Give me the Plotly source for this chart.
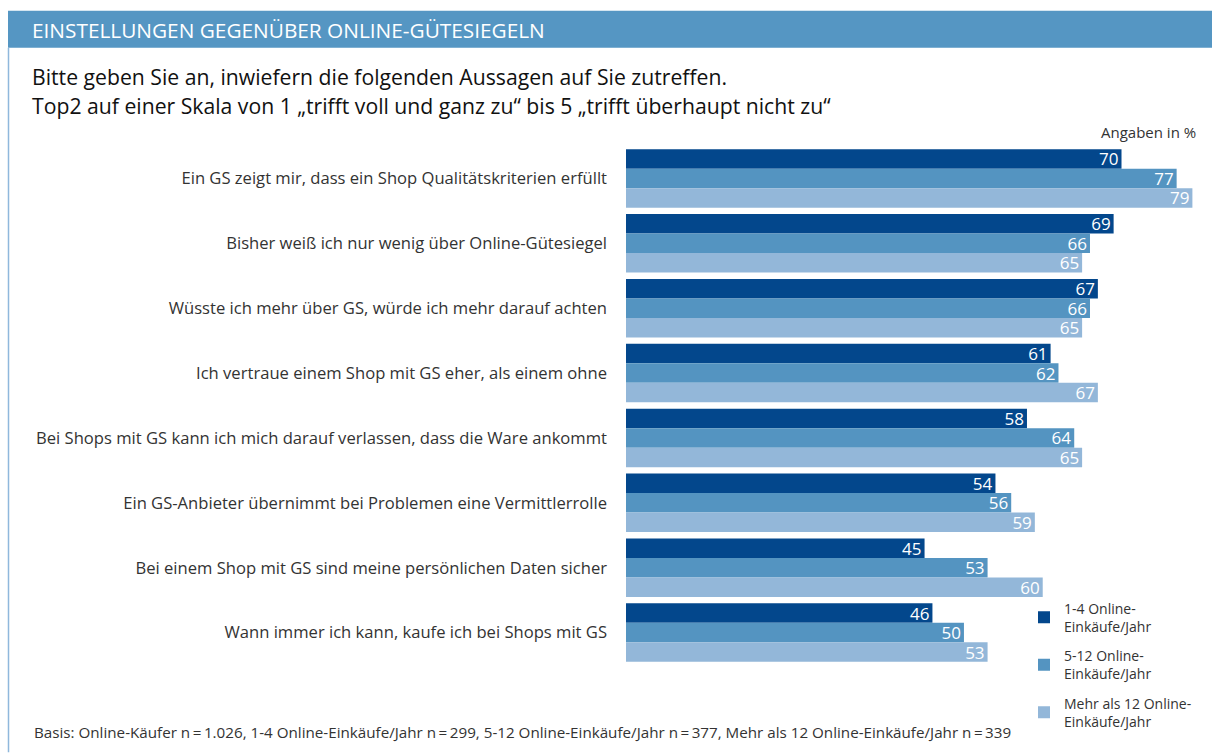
import plotly.graph_objects as go

categories = [
    "Ein GS zeigt mir, dass ein Shop Qualitätskriterien erfüllt",
    "Bisher weiß ich nur wenig über Online-Gütesiegel",
    "Wüsste ich mehr über GS, würde ich mehr darauf achten",
    "Ich vertraue einem Shop mit GS eher, als einem ohne",
    "Bei Shops mit GS kann ich mich darauf verlassen, dass die Ware ankommt",
    "Ein GS-Anbieter übernimmt bei Problemen eine Vermittlerrolle",
    "Bei einem Shop mit GS sind meine persönlichen Daten sicher",
    "Wann immer ich kann, kaufe ich bei Shops mit GS",
]
series_names = [
    "1-4 Online-<br>Einkäufe/Jahr",
    "5-12 Online-<br>Einkäufe/Jahr",
    "Mehr als 12 Online-<br>Einkäufe/Jahr",
]
vals_1_4 = [70, 69, 67, 61, 58, 54, 45, 46]
vals_5_12 = [77, 66, 66, 62, 64, 56, 53, 50]
vals_12plus = [79, 65, 65, 67, 65, 59, 60, 53]
colors = ["#03478c", "#5494c1", "#93b7d9"]

FONT = "Open Sans"
W, H = 1212, 753
L, R, T, B = 626, 1205, 145.5, 665.5

def px(x):
    return (x - L) / (R - L)

def py(y):
    return (B - y) / (B - T)

fig = go.Figure()
for i, (name, vals) in enumerate(zip(series_names, [vals_1_4, vals_5_12, vals_12plus])):
    fig.add_trace(go.Bar(
        y=categories, x=vals, orientation="h", name=name,
        marker=dict(color=colors[i], line=dict(width=0)),
        text=[str(v) for v in vals], textposition="inside", textangle=0,
        insidetextanchor="end", constraintext="none",
        textfont=dict(color="white", size=17, family=FONT),
        legendgroup=str(i),
    ))

fig.update_layout(
    width=W, height=H,
    margin=dict(l=L, r=W - R, t=T, b=H - B, pad=0),
    paper_bgcolor="white", plot_bgcolor="white",
    barmode="group", bargap=0.1, bargroupgap=0,
    font=dict(family=FONT, color="#333333"),
    xaxis=dict(range=[7.1, 80.6], visible=False, fixedrange=True),
    yaxis=dict(autorange="reversed", showgrid=False, showline=False, zeroline=False,
               ticks="", ticklabelstandoff=18,
               tickfont=dict(size=16.6, color="#333333", family=FONT)),
    legend=dict(
        x=px(1024), y=py(593), xanchor="left", yanchor="top",
        font=dict(size=14, color="#333333", family=FONT),
        tracegroupgap=8, traceorder="grouped", itemclick=False,
        bgcolor="rgba(0,0,0,0)",
    ),
    showlegend=True,
)

shapes = [
    dict(type="rect", xref="paper", yref="paper", x0=px(8), x1=px(1212), y0=py(47), y1=py(10),
         fillcolor="#5596c3", line=dict(width=0), layer="below"),
    dict(type="line", xref="paper", yref="paper", x0=px(8.5), x1=px(8.5), y0=py(47), y1=py(753),
         line=dict(color="#8fb8dc", width=1.5)),
]
fig.update_layout(shapes=shapes)

annotations = [
    dict(text="EINSTELLUNGEN GEGENÜBER ONLINE-GÜTESIEGELN", x=px(30), y=py(29),
         font=dict(size=20.8, color="white", family=FONT)),
    dict(text="Bitte geben Sie an, inwiefern die folgenden Aussagen auf Sie zutreffen.", x=px(30), y=py(76),
         font=dict(size=21.2, color="#111111", family=FONT)),
    dict(text="Top2 auf einer Skala von 1 „trifft voll und ganz zu“ bis 5 „trifft überhaupt nicht zu“", x=px(30), y=py(105),
         font=dict(size=21.2, color="#111111", family=FONT)),
    dict(text="Basis: Online-Käufer n\u2009=\u20091.026, 1-4 Online-Einkäufe/Jahr n\u2009=\u2009299, 5-12 Online-Einkäufe/Jahr n\u2009=\u2009377, Mehr als 12 Online-Einkäufe/Jahr n\u2009=\u2009339",
         x=px(32), y=py(733), font=dict(size=15.2, color="#333333", family=FONT)),
]
for a in annotations:
    a.update(xref="paper", yref="paper", xanchor="left", yanchor="middle", showarrow=False)
annotations.append(dict(text="Angaben in %", x=px(1198), y=py(131), xref="paper", yref="paper",
                        xanchor="right", yanchor="middle", showarrow=False,
                        font=dict(size=15, color="#333333", family=FONT)))
fig.update_layout(annotations=annotations)

fig.write_html("out.html")
